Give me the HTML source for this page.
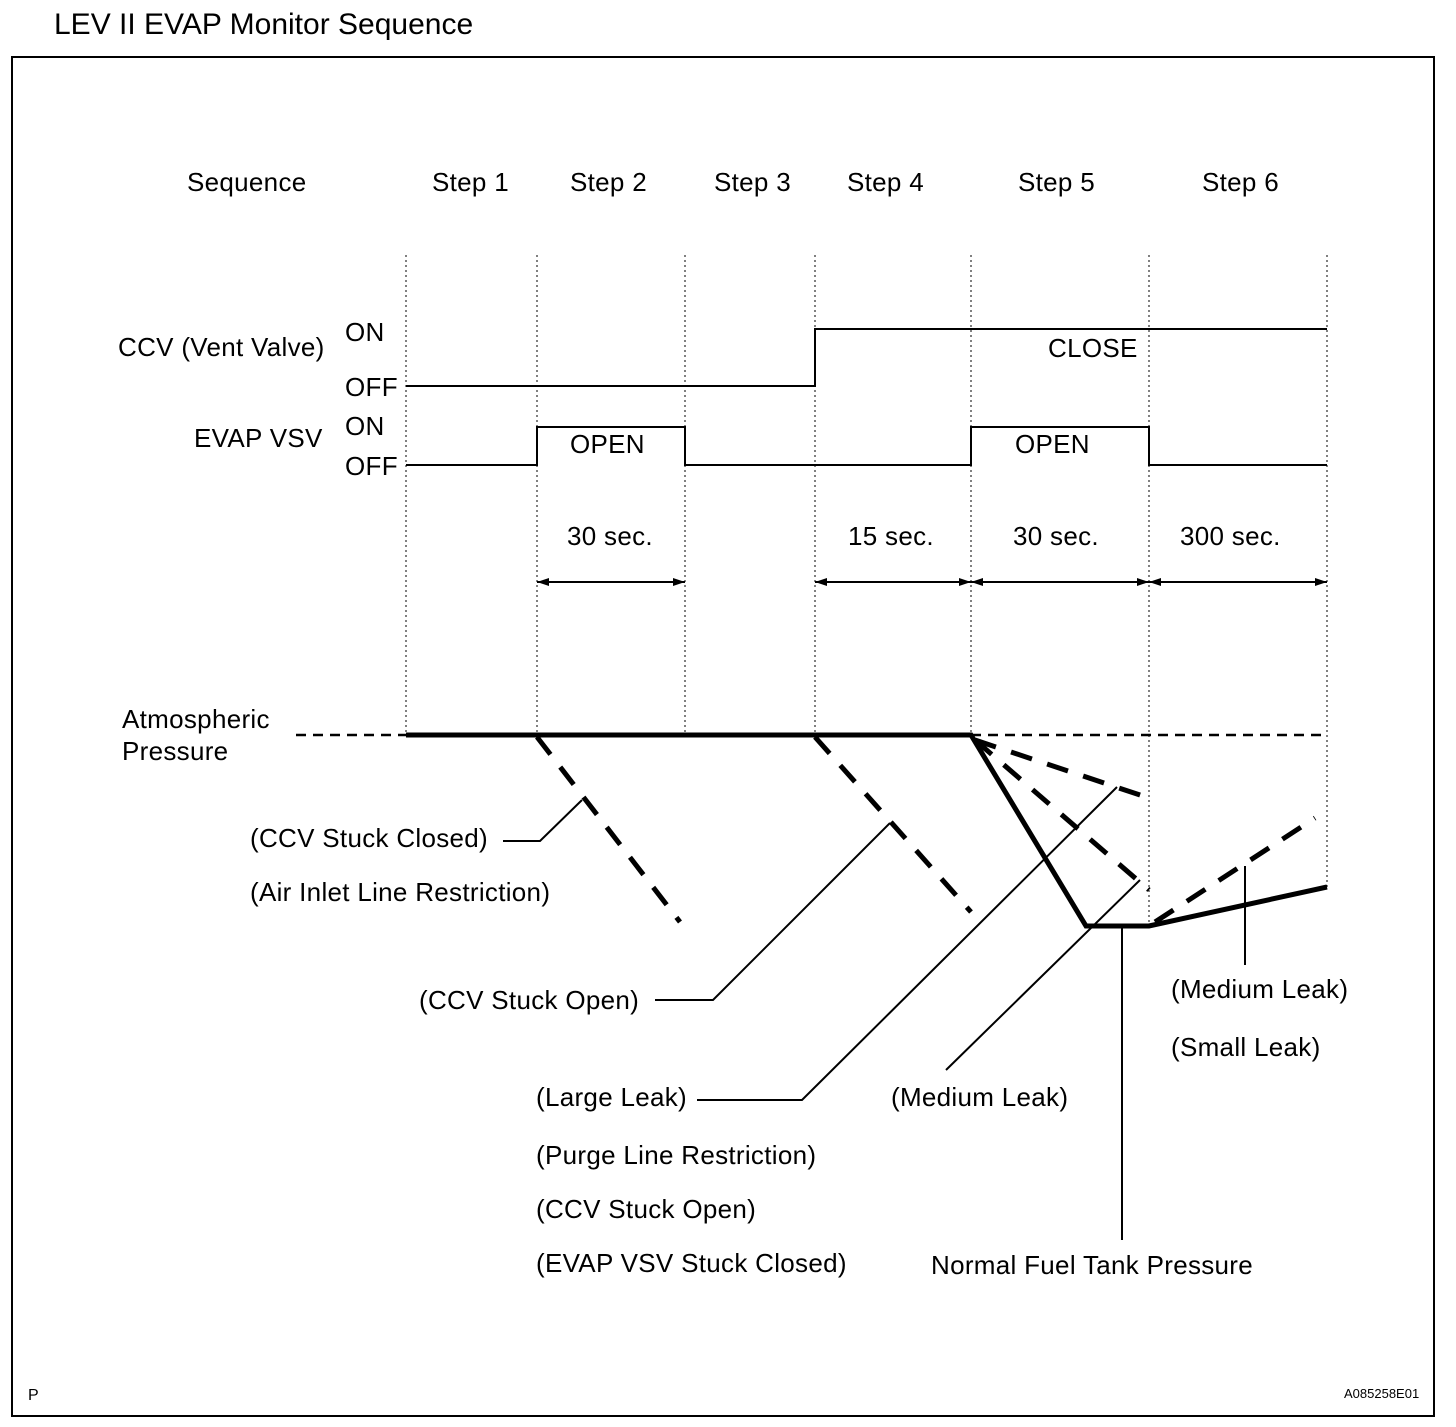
<!DOCTYPE html><html><head><style>body{margin:0;background:#fff}svg text{font-family:"Liberation Sans",sans-serif;font-size:26px;letter-spacing:0.3px;fill:#000}</style></head><body>
<svg width="1456" height="1422" viewBox="0 0 1456 1422" xmlns="http://www.w3.org/2000/svg">
<text x="54" y="34" style="font-size:30px;letter-spacing:0">LEV II EVAP Monitor Sequence</text>
<rect x="12" y="57" width="1422" height="1359" fill="none" stroke="#000" stroke-width="2"/>
<g>
<text x="187" y="191">Sequence</text><text x="432" y="191">Step 1</text><text x="570" y="191">Step 2</text><text x="714" y="191">Step 3</text><text x="847" y="191">Step 4</text><text x="1018" y="191">Step 5</text><text x="1202" y="191">Step 6</text>
<text x="118" y="356">CCV (Vent Valve)</text><text x="345" y="341">ON</text><text x="345" y="396">OFF</text>
<text x="194" y="447">EVAP VSV</text><text x="345" y="435">ON</text><text x="345" y="475">OFF</text>
<text x="1048" y="357">CLOSE</text><text x="570" y="453">OPEN</text><text x="1015" y="453">OPEN</text>
<text x="567" y="545">30 sec.</text><text x="848" y="545">15 sec.</text><text x="1013" y="545">30 sec.</text><text x="1180" y="545">300 sec.</text>
<text x="122" y="728">Atmospheric</text><text x="122" y="760">Pressure</text>
<text x="250" y="847">(CCV Stuck Closed)</text><text x="250" y="901">(Air Inlet Line Restriction)</text>
<text x="419" y="1009">(CCV Stuck Open)</text>
<text x="536" y="1106">(Large Leak)</text><text x="536" y="1164">(Purge Line Restriction)</text><text x="536" y="1218">(CCV Stuck Open)</text><text x="536" y="1272">(EVAP VSV Stuck Closed)</text>
<text x="891" y="1106">(Medium Leak)</text><text x="931" y="1274">Normal Fuel Tank Pressure</text>
<text x="1171" y="998">(Medium Leak)</text><text x="1171" y="1056">(Small Leak)</text>
<text x="28" y="1400" style="font-size:16px">P</text><text x="1344" y="1398" style="font-size:13px;letter-spacing:0">A085258E01</text>
</g>
<g stroke="#000" stroke-width="1" stroke-dasharray="2,3" fill="none">
<path d="M406 255V735M537 255V735M685 255V735M815 255V735M971 255V735M1149 255V926M1327 255V887"/>
</g>
<g stroke="#000" stroke-width="2" fill="none">
<path d="M406 386H815V329H1327"/>
<path d="M406 465H537V427H685V465H971V427H1149V465H1327"/>
<path d="M537 582H685M815 582H971M971 582H1149M1149 582H1327"/>
<path d="M503 841H540L582 800M655 1000H713L890 823M697 1100H802L1117 787M946 1070L1140 880M1122 926V1240M1245 866V965"/>
</g>
<g fill="#000">
<path d="M537 582l12-4v8zM685 582l-12-4v8zM815 582l12-4v8zM971 582l-12-4v8zM971 582l12-4v8zM1149 582l-12-4v8zM1149 582l12-4v8zM1327 582l-12-4v8z"/>
</g>
<g stroke="#000" stroke-width="2.5" stroke-dasharray="10,7" fill="none"><path d="M296 735H406M971 735H1327"/></g>
<g stroke="#000" stroke-width="5" stroke-dasharray="22,16" fill="none">
<path d="M537 737L680 922M815 737L971 912M975 740L1149 798M975 740L1149 890M1155 922L1315 818"/>
</g>
<g stroke="#000" stroke-width="5" fill="none" stroke-linejoin="miter"><path d="M406 735H971L1086 926H1149L1327 887"/></g>
</svg></body></html>
